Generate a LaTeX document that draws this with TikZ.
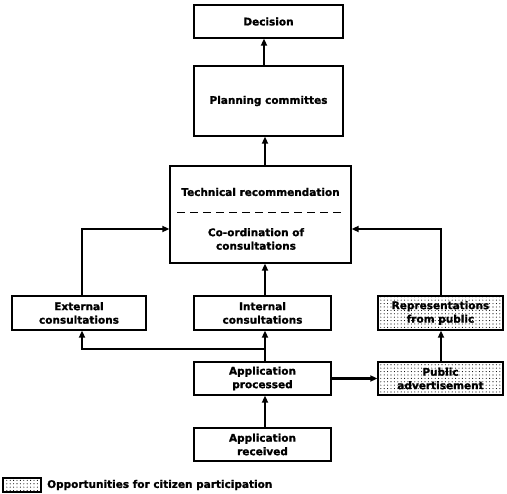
\documentclass[tikz,border=0pt]{standalone}
\usepackage{fontspec}
\setmainfont{DejaVu Sans}[BoldFeatures={FakeBold=1.2}]
\usetikzlibrary{arrows.meta,patterns.meta}
\tikzset{
  box/.style={draw=black, line width=1.3pt, rectangle, inner sep=0pt, fill=white},
  dotbox/.style={box, pattern={Dots[distance=3.4pt, radius=0.55pt]}, pattern color=black},
  lbl/.style={font=\bfseries\fontsize{10.5}{13.5}\selectfont, align=center, inner sep=0pt},
  conn/.style={line width=2.2pt, -{Triangle[length=7pt,width=6pt]}}
}
\begin{document}
\begin{tikzpicture}[x=1pt,y=-1pt]
\useasboundingbox (0,0) rectangle (507,494);

% boxes
\node[box, minimum width=149pt, minimum height=33pt] (dec) at (268.5,21.5) {};
\node[lbl] at (dec) {Decision};
\node[box, minimum width=149pt, minimum height=70pt] (plan) at (268.5,101) {};
\node[lbl] at (plan) {Planning committes};
\node[box, minimum width=181pt, minimum height=97pt] (tech) at (260.5,214.5) {};
\node[lbl] (techtxt) at (260.5,192) {Technical recommendation};
\draw[line width=1pt, dash pattern=on 8pt off 5pt] (177,213) -- (344,213);
\node[lbl] (coord) at (256,239) {Co-ordination of\\consultations};

\node[box, minimum width=134pt, minimum height=34pt] (ext) at (79,313) {};
\node[lbl] at (ext) {External\\consultations};
\node[box, minimum width=137pt, minimum height=34pt] (int) at (262.5,313) {};
\node[lbl] at (int) {Internal\\consultations};
\node[dotbox, minimum width=125pt, minimum height=34pt] (rep) at (440.5,313) {};
\node[lbl] at (rep) {Representations\\from public};

\node[box, minimum width=137pt, minimum height=33pt] (proc) at (262.5,378.5) {};
\node[lbl] at (proc) {Application\\processed};
\node[dotbox, minimum width=125pt, minimum height=33pt] (pub) at (440.5,378.5) {};
\node[lbl] at (pub) {Public\\advertisement};
\node[box, minimum width=137pt, minimum height=33pt] (recv) at (262.5,444.5) {};
\node[lbl] at (recv) {Application\\received};

% legend
\node[dotbox, line width=1.2pt, minimum width=38pt, minimum height=14pt] (key) at (22,485) {};
\node[lbl, anchor=west] (keytxt) at (47,485) {Opportunities for citizen participation};

% reference lines for connector positions
\coordinate (xd) at (264,0);
\coordinate (xc) at (265,0);
\coordinate (xe) at (82,0);
\coordinate (xr) at (441,0);
\coordinate (ya) at (0,229);
\coordinate (br) at (265,349);

% connectors
\draw[conn] (plan.north -| xd) -- (dec.south -| xd);
\draw[conn] (tech.north -| xc) -- (plan.south -| xc);
\draw[conn] (int.north -| xc) -- (tech.south -| xc);
\draw[conn] (ext.north -| xe) |- (tech.west |- ya);
\draw[conn] (rep.north -| xr) |- (tech.east |- ya);
\draw[conn] (proc.north -| xc) -- (int.south -| xc);
\draw[conn] (br) -| (ext.south -| xe);
\draw[conn] (proc.east) -- (pub.west);
\draw[conn] (pub.north -| xr) -- (rep.south -| xr);
\draw[conn] (recv.north -| xc) -- (proc.south -| xc);
\end{tikzpicture}
\end{document}
